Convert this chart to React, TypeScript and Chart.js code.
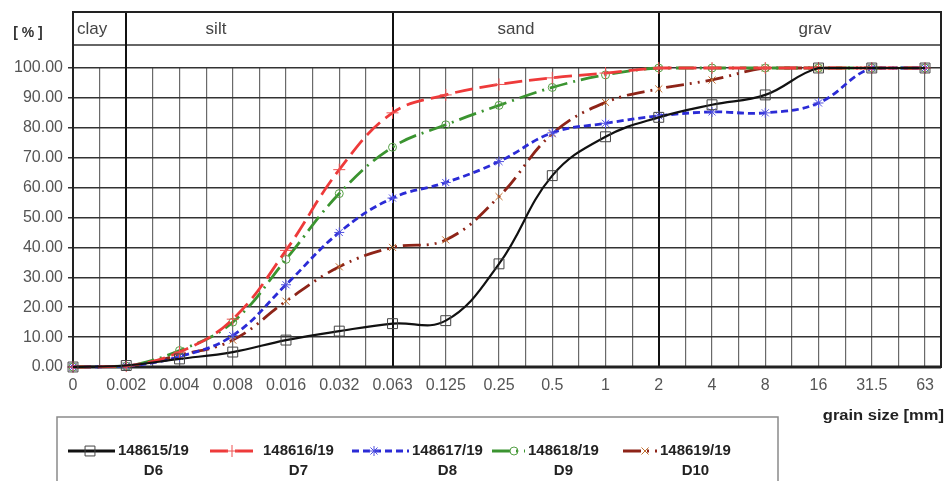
import React, { useEffect, useRef } from 'react';
import { Chart, registerables } from 'chart.js';
import { drawPoint } from 'chart.js/helpers';

Chart.register(...registerables);

// ---- data ----
const grainSizes = ['0', '0.002', '0.004', '0.008', '0.016', '0.032', '0.063', '0.125', '0.25', '0.5', '1', '2', '4', '8', '16', '31.5', '63'];
const sampleIds = ['148615/19', '148616/19', '148617/19', '148618/19', '148619/19'];
const sampleNames = ['D6', 'D7', 'D8', 'D9', 'D10'];
const d6 = [0, 0.5, 2.7, 5, 9, 12, 14.5, 15.5, 34.5, 64, 77, 83.5, 87.7, 91, 100, 100, 100];
const d7 = [0, 0.3, 5, 16, 39, 66, 85, 91, 94.5, 96.7, 98.3, 100, 100, 100, 100, 100, 100];
const d8 = [0, 0.3, 3.5, 10.5, 27.5, 45, 56.5, 61.7, 68.7, 78.3, 81.5, 84, 85.3, 85, 88.3, 100, 100];
const d9 = [0, 0.3, 5.5, 15, 36, 58, 73.5, 81, 87.5, 93.5, 97.7, 100, 100, 100, 100, 100, 100];
const d10 = [0, 0.3, 4, 9, 22, 33.5, 40, 42.5, 57, 78, 88.5, 93, 96, 100, 100, 100, 100];
const fractionNames = ['clay', 'silt', 'sand', 'grav'];
const fractionBoundaryIdx = [1, 6, 11];
const yTitle = '[ % ]';
const xTitle = 'grain size [mm]';

// ---- styles ----
const seriesValues = [d6, d7, d8, d9, d10];
const colors = ['#111111', '#ee3a3a', '#2b2bd6', '#3b9430', '#8e2418'];
const dashes = [[], [18, 7], [7, 4], [18, 6, 2, 6], [18, 6, 2, 6, 2, 6]];
const pointStyles = ['rect', 'cross', 'star', 'circle', 'crossRot'];
const pointRadii = [7, 6, 5, 4, 5];
const pointBorders = ['#444444', '#ee5050', '#5050e0', '#55a045', '#c07030'];
const legendSampleStart = [68, 210, 352, 492, 623];
const legendTextStart = [118, 263, 412, 528, 660];
const headerX = [77, 216, 516, 815];

const FONT = 'Arial, "Liberation Sans", sans-serif';

const framePlugin = {
  id: 'framePlugin',
  beforeDatasetsDraw(chart: any) {
    const { ctx, chartArea, scales } = chart;
    const xs = scales.x;
    const top = 12;
    ctx.save();
    ctx.strokeStyle = '#333';
    ctx.lineWidth = 1.5;
    ctx.beginPath();
    ctx.moveTo(chartArea.left, 45);
    ctx.lineTo(chartArea.right, 45);
    ctx.stroke();
    ctx.strokeStyle = '#111';
    ctx.lineWidth = 2;
    fractionBoundaryIdx.forEach((i) => {
      const px = Math.round(xs.getPixelForValue(i));
      ctx.beginPath();
      ctx.moveTo(px, top);
      ctx.lineTo(px, chartArea.bottom);
      ctx.stroke();
    });
    ctx.strokeStyle = '#222';
    ctx.lineWidth = 2;
    ctx.strokeRect(chartArea.left, top, chartArea.right - chartArea.left, chartArea.bottom - top);
    ctx.lineWidth = 3;
    ctx.beginPath();
    ctx.moveTo(chartArea.left, chartArea.bottom);
    ctx.lineTo(chartArea.right, chartArea.bottom);
    ctx.stroke();
    ctx.restore();
  },
  afterDraw(chart: any) {
    const { ctx } = chart;
    ctx.save();
    ctx.fillStyle = '#444';
    ctx.font = `17px ${FONT}`;
    ctx.textBaseline = 'middle';
    fractionNames.forEach((n, i) => {
      ctx.textAlign = i === 0 ? 'left' : 'center';
      ctx.fillText(n, headerX[i], 29);
    });
    ctx.fillStyle = '#333';
    ctx.font = `bold 14px ${FONT}`;
    ctx.textAlign = 'center';
    ctx.fillText(yTitle, 28, 33);
    ctx.save();
    ctx.font = `bold 14px ${FONT}`;
    ctx.textAlign = 'right';
    ctx.translate(944, 416);
    ctx.scale(1.18, 1);
    ctx.fillStyle = '#222';
    ctx.fillText(xTitle, 0, 0);
    ctx.restore();
    ctx.strokeStyle = '#8a8a8a';
    ctx.lineWidth = 1.5;
    ctx.strokeRect(57, 417, 778 - 57, 90);
    chart.data.datasets.forEach((ds: any, i: number) => {
      const x0 = legendSampleStart[i];
      const x1 = legendTextStart[i] - 3;
      const y = 451;
      ctx.save();
      ctx.strokeStyle = ds.borderColor;
      ctx.lineWidth = 3;
      ctx.setLineDash(ds.borderDash || []);
      ctx.beginPath();
      ctx.moveTo(x0, y);
      ctx.lineTo(x1, y);
      ctx.stroke();
      ctx.setLineDash([]);
      ctx.strokeStyle = pointBorders[i];
      ctx.fillStyle = 'rgba(255,255,255,0)';
      ctx.lineWidth = 1;
      drawPoint(ctx, {
        pointStyle: ds.pointStyle,
        radius: ds.pointRadius,
        rotation: 0,
        borderWidth: 1,
      } as any, x0 + 22, y);
      ctx.restore();
      ctx.fillStyle = '#222';
      ctx.font = `bold 15px ${FONT}`;
      ctx.textAlign = 'left';
      ctx.textBaseline = 'middle';
      ctx.fillText(sampleIds[i], legendTextStart[i], y);
      const w = ctx.measureText(sampleIds[i]).width;
      ctx.textAlign = 'center';
      ctx.fillText(sampleNames[i], legendTextStart[i] + w / 2, 471);
    });
    ctx.restore();
  },
};

export default function App() {
  const ref = useRef<HTMLCanvasElement | null>(null);
  useEffect(() => {
    if (!ref.current) return;
    const halfTicks: number[] = [];
    for (let v = 0; v <= grainSizes.length - 1; v += 0.5) halfTicks.push(v);
    const chart = new Chart(ref.current, {
      type: 'line',
      data: {
        datasets: seriesValues.map((vals, i) => ({
          label: `${sampleIds[i]} ${sampleNames[i]}`,
          data: vals.map((v, k) => ({ x: k, y: v })),
          borderColor: colors[i],
          borderWidth: i === 0 ? 2.2 : 2.8,
          borderDash: dashes[i],
          tension: 0.4,
          fill: false,
          pointStyle: pointStyles[i],
          pointRadius: pointRadii[i],
          pointBorderColor: pointBorders[i],
          pointBackgroundColor: 'rgba(255,255,255,0)',
          pointBorderWidth: 1,
          clip: false,
        })),
      },
      options: {
        responsive: false,
        animation: false,
        layout: { padding: { left: 0, top: 68, right: 6, bottom: 0 } },
        plugins: { legend: { display: false }, tooltip: { enabled: false } },
        scales: {
          x: {
            type: 'linear',
            min: 0,
            max: 16.3,
            afterFit: (s: any) => { s.height = 114; },
            afterBuildTicks: (axis: any) => { axis.ticks = halfTicks.map((v) => ({ value: v })); },
            border: { display: false },
            grid: {
              drawTicks: false,
              color: (c: any) => (fractionBoundaryIdx.includes(c.tick?.value) ? '#111' : '#6a6a6a'),
              lineWidth: (c: any) => (fractionBoundaryIdx.includes(c.tick?.value) ? 2 : 1.2),
            },
            ticks: {
              autoSkip: false,
              maxRotation: 0,
              padding: 9,
              color: '#555',
              font: { family: FONT, size: 16 },
              callback: (v: any) => (Number.isInteger(v) ? grainSizes[v] : ''),
            },
          },
          y: {
            min: 0,
            max: 100,
            afterFit: (s: any) => { s.width = 73; },
            border: { display: false },
            grid: { color: '#333', lineWidth: 1.5, drawTicks: true, tickLength: 5 },
            ticks: {
              stepSize: 10,
              padding: 5,
              color: '#555',
              font: { family: FONT, size: 16 },
              callback: (v: any) => Number(v).toFixed(2),
            },
          },
        },
      },
      plugins: [framePlugin],
    } as any);
    return () => chart.destroy();
  }, []);
  return (
    <div style={{ position: 'fixed', left: 0, top: 0, width: 949, height: 481, background: '#fff' }}>
      <canvas ref={ref} width={949} height={481} style={{ display: 'block' }} />
    </div>
  );
}
